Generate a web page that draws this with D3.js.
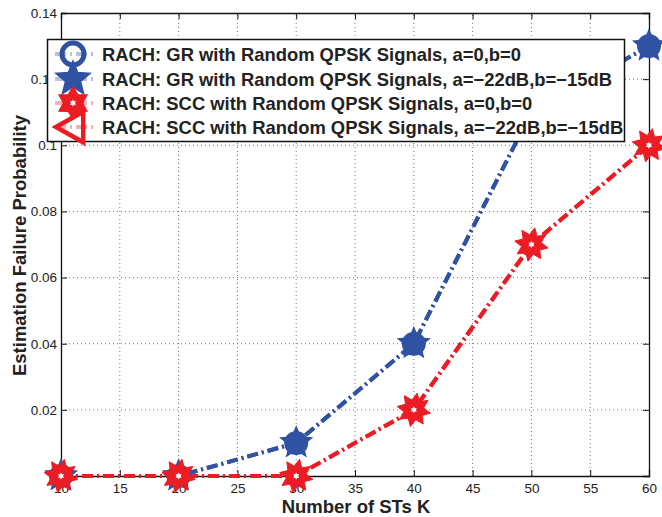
<!DOCTYPE html>
<html><head><meta charset="utf-8">
<script src="https://cdn.jsdelivr.net/npm/d3@7"></script>
<style>body{margin:0;background:#fff}svg{display:block}</style>
</head><body>
<script>
const kValues = [10, 20, 30, 40, 50, 60];
const grZero = [0, 0, 0.01, 0.04, 0.11, 0.13];
const grDb = [0, 0, 0.01, 0.04, 0.11, 0.13];
const sccZero = [0, 0, 0, 0.02, 0.07, 0.10];
const sccDb = [0, 0, 0, 0.02, 0.07, 0.10];
const xTicks = [10, 15, 20, 25, 30, 35, 40, 45, 50, 55, 60];
const yTicks = [0, 0.02, 0.04, 0.06, 0.08, 0.1, 0.12, 0.14];
const legendLabels = [
  "RACH: GR with Random QPSK Signals, a=0,b=0",
  "RACH: GR with Random QPSK Signals, a=\u221222dB,b=\u221215dB",
  "RACH: SCC with Random QPSK Signals, a=0,b=0",
  "RACH: SCC with Random QPSK Signals, a=\u221222dB,b=\u221215dB"
];

const W = 662, H = 517;
const m = {l: 61, t: 13, r: 13, b: 41};
const BLUE = "#2f52a3", RED = "#ec1c24";
const svg = d3.select("body").append("svg").attr("width", W).attr("height", H);
const x = d3.scaleLinear().domain([10, 60]).range([m.l, W - m.r]);
const y = d3.scaleLinear().domain([0, 0.14]).range([H - m.b, m.t]);
const font = "'Liberation Sans', Arial, Helvetica, sans-serif";

// grid
const g = svg.append("g");
g.selectAll(".vx").data(xTicks.slice(1, -1)).enter().append("line")
  .attr("x1", d => x(d)).attr("x2", d => x(d)).attr("y1", y(0)).attr("y2", y(0.14))
  .attr("stroke", "#777").attr("stroke-width", 1).attr("stroke-dasharray", "1,3");
g.selectAll(".hy").data(yTicks.slice(1, -1)).enter().append("line")
  .attr("y1", d => y(d)).attr("y2", d => y(d)).attr("x1", x(10)).attr("x2", x(60))
  .attr("stroke", "#777").attr("stroke-width", 1).attr("stroke-dasharray", "1,3");

// axes
const xAxis = d3.axisBottom(x).tickValues(xTicks).tickSize(-6).tickPadding(7).tickFormat(d3.format("d"));
const xAxisTop = d3.axisTop(x).tickValues(xTicks).tickSize(-6).tickFormat("");
const yAxis = d3.axisLeft(y).tickValues(yTicks).tickSize(-6).tickPadding(4).tickFormat(d => d === 0 ? "0" : d3.format("")(d));
const yAxisRight = d3.axisRight(y).tickValues(yTicks).tickSize(-6).tickFormat("");
function styleAxis(sel) {
  sel.select(".domain").attr("stroke", "#111").attr("stroke-width", 1.3);
  sel.selectAll(".tick line").attr("stroke", "#111").attr("stroke-width", 1);
  sel.selectAll(".tick text").attr("font-family", font).attr("font-size", 13.5).attr("fill", "#222");
}
svg.append("g").attr("transform", `translate(0,${y(0)})`).call(xAxis).call(styleAxis);
svg.append("g").attr("transform", `translate(0,${y(0.14)})`).call(xAxisTop).call(styleAxis);
svg.append("g").attr("transform", `translate(${x(10)},0)`).call(yAxis).call(styleAxis);
svg.append("g").attr("transform", `translate(${x(60)},0)`).call(yAxisRight).call(styleAxis);

// labels
svg.append("text").attr("x", 356).attr("y", 513).attr("text-anchor", "middle")
  .attr("font-family", font).attr("font-weight", "bold").attr("font-size", 18.5).attr("fill", "#222")
  .text("Number of STs K");
svg.append("text").attr("transform", `translate(26,${(y(0) + y(0.14)) / 2 + 1}) rotate(-90)`).attr("text-anchor", "middle")
  .attr("font-family", font).attr("font-weight", "bold").attr("font-size", 18.5).attr("fill", "#222")
  .text("Estimation Failure Probability");

// marker shapes
function starPath(n, R, r, rot) {
  const pts = [];
  for (let i = 0; i < 2 * n; i++) {
    const a = rot + Math.PI * i / n;
    const rad = i % 2 === 0 ? R : r;
    pts.push([rad * Math.sin(a), -rad * Math.cos(a)]);
  }
  return "M" + pts.map(p => p[0].toFixed(2) + "," + p[1].toFixed(2)).join("L") + "Z";
}
function triPath(s) {
  return `M${-s},0L${s * 0.6},${-s * 0.9}L${s * 0.6},${s * 0.9}Z`;
}
function drawCircleMarker(sel, filled, r, sw) {
  sel.append("circle").attr("r", r).attr("fill", filled ? BLUE : "none").attr("stroke", BLUE).attr("stroke-width", sw);
}
function drawPentagram(sel, R) {
  sel.append("path").attr("d", starPath(5, R, R * 0.44, 0)).attr("fill", BLUE).attr("stroke", BLUE).attr("stroke-width", 1.5);
}
function drawHexagram(sel) {
  sel.append("path").attr("d", starPath(6, 16, 9.5, 0)).attr("fill", RED).attr("stroke", RED).attr("stroke-width", 1.5);
  sel.append("path").attr("d", starPath(6, 3.5, 2, 0)).attr("fill", "#fff");
}
function drawTriangle(sel) {
  sel.append("path").attr("d", triPath(17)).attr("fill", "none").attr("stroke", RED).attr("stroke-width", 4.5).attr("stroke-linejoin", "miter");
}
function drawSpikyRed(sel) {
  sel.append("path").attr("d", starPath(8, 17, 10, 0.2)).attr("fill", RED).attr("stroke", RED).attr("stroke-width", 1);
  sel.append("path").attr("d", starPath(6, 3.5, 2, 0)).attr("fill", "#fff");
}

const line = d3.line().x((d, i) => x(kValues[i])).y(d => y(d));
const dash = "11,4,2,4";
const series = [
  {vals: grZero, color: BLUE},
  {vals: grDb, color: BLUE},
  {vals: sccZero, color: RED},
  {vals: sccDb, color: RED}
];
series.forEach(s => {
  svg.append("path").datum(s.vals).attr("d", line).attr("fill", "none")
    .attr("stroke", s.color).attr("stroke-width", 4).attr("stroke-dasharray", dash);
});

// markers
kValues.forEach((k, i) => {
  const gg = svg.append("g").attr("transform", `translate(${x(k)},${y(grDb[i])})`);
  drawPentagram(gg, 16);
  const gc = svg.append("g").attr("transform", `translate(${x(k)},${y(grZero[i])})`);
  drawCircleMarker(gc, true, 10, 4);
});
kValues.forEach((k, i) => {
  const gg = svg.append("g").attr("transform", `translate(${x(k)},${y(sccZero[i])})`);
  drawSpikyRed(gg);
});

// legend
const lg = svg.append("g");
lg.append("rect").attr("x", 47.5).attr("y", 39.5).attr("width", 577).attr("height", 102)
  .attr("fill", "#fff").attr("stroke", "#111").attr("stroke-width", 1.5);
const rowsY = [54, 79, 103, 127];
const drawers = [g2 => drawCircleMarker(g2, false, 11, 5), g2 => drawPentagram(g2, 18), drawHexagram, drawTriangle];
legendLabels.forEach((lab, i) => {
  const col = i < 2 ? BLUE : RED;
  lg.append("line").attr("x1", 55).attr("x2", 93).attr("y1", rowsY[i]).attr("y2", rowsY[i])
    .attr("stroke", col).attr("stroke-width", 4).attr("stroke-dasharray", dash).attr("opacity", 0.35);
  const mg = lg.append("g").attr("transform", `translate(73,${rowsY[i]})`);
  drawers[i](mg);
  lg.append("text").attr("x", 102).attr("y", rowsY[i]).attr("dy", "0.36em")
    .attr("font-family", font).attr("font-weight", "bold").attr("font-size", 18.4).attr("fill", "#222")
    .text(lab);
});
</script>
</body></html>
